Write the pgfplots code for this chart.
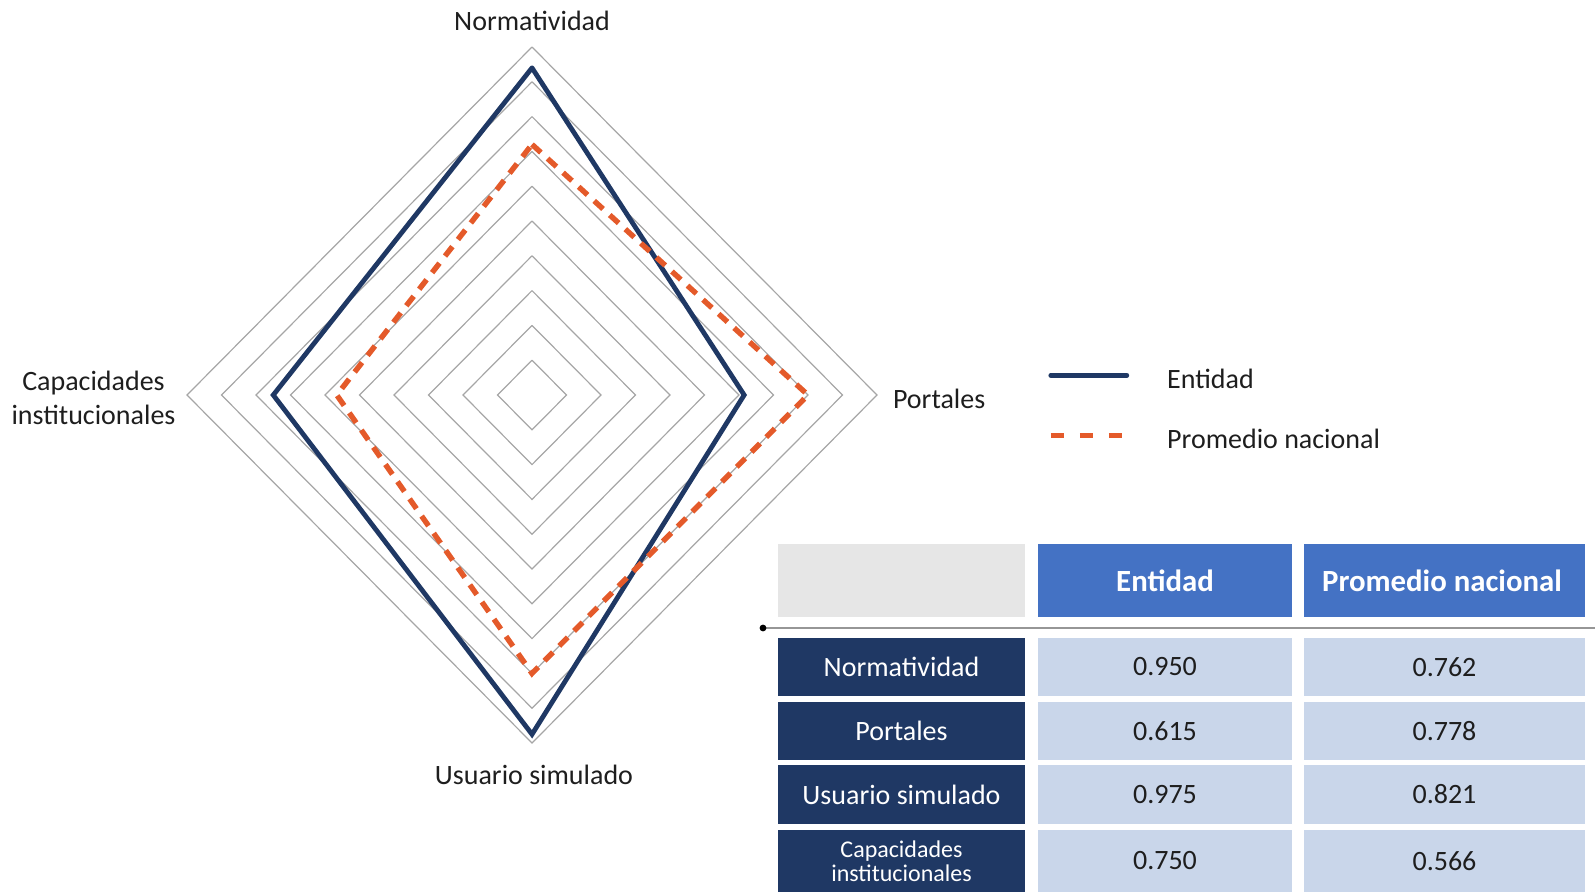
\documentclass[border=0pt]{standalone}
\usepackage{pgfplots}
\pgfplotsset{compat=1.18}
\usepackage{fontspec}
\setmainfont{Carlito}
\definecolor{navy}{HTML}{1F3864}
\definecolor{orng}{HTML}{E45A2A}
\definecolor{hdrblue}{HTML}{4472C4}
\definecolor{cellblue}{HTML}{C9D6EA}
\definecolor{hdrgray}{HTML}{E6E6E6}
\definecolor{ringgray}{HTML}{A6A6A6}
\definecolor{valtext}{HTML}{1E1E1E}
\definecolor{rulegray}{HTML}{969696}
\begin{document}
\begin{tikzpicture}
\useasboundingbox (0pt,0pt) rectangle (797.5pt,-445.5pt);
\begin{axis}[at={(266pt,-197.5pt)}, anchor=center, scale only axis,
  width=345pt, height=348pt, xmin=-1, xmax=1, ymin=-1, ymax=1,
  hide axis, clip=false,
  legend style={at={(axis description cs:1.248,0.475)}, anchor=west,
    draw=none, fill=none, inner sep=0pt, outer sep=0pt,
    row sep=17.5pt, column sep=19pt, text=valtext,
    font=\fontsize{14}{17}\selectfont,
    nodes={inner sep=0pt, text height=9.5pt, text depth=3pt}},
  legend cell align=left,
  legend image code/.code={\draw[#1] (0pt,3.5pt) -- (38pt,3.5pt);}]
\pgfplotsinvokeforeach{0.1,0.2,0.3,0.4,0.5,0.6,0.7,0.8,0.9,1.0}{
  \addplot[ringgray, line width=0.6pt, forget plot, mark=none]
    coordinates {(0,#1) (#1,0) (0,-#1) (-#1,0) (0,#1)};
}
% Entidad: Normatividad, Portales, Usuario simulado, Capacidades institucionales
\addplot[navy, line width=2.4pt, line join=miter, line cap=round, mark=none]
  coordinates {(0,0.940) (0.615,0) (0,-0.975) (-0.750,0) (0,0.940)};
% Promedio nacional (as drawn in the chart)
\addplot[orng, line width=2.7pt, dash pattern=on 6pt off 4.5pt, mark=none,
  legend image code/.code={\draw[orng, line width=2.7pt, dash pattern=on 6.5pt off 8pt] (0pt,3.5pt) -- (35.5pt,3.5pt);}]
  coordinates {(0,0.720) (0.800,0) (0,-0.800) (-0.566,0) (0,0.720)};
\legend{Entidad, Promedio nacional}
\end{axis}
% axis labels
\node[valtext, font=\fontsize{14}{17}\selectfont] at (266pt,-10.5pt) {Normatividad};
\node[valtext, font=\fontsize{14}{17}\selectfont, anchor=west] at (443pt,-199.5pt) {Portales};
\node[valtext, font=\fontsize{14}{17}\selectfont, align=center] at (46.75pt,-199pt) {Capacidades\\institucionales};
\node[valtext, font=\fontsize{14}{17}\selectfont] at (267pt,-387.5pt) {Usuario simulado};
% table header
\fill[hdrgray] (389pt,-272pt) rectangle (512.5pt,-308.5pt);
\fill[hdrblue] (519pt,-272pt) rectangle (646pt,-308.5pt);
\fill[hdrblue] (652pt,-272pt) rectangle (792.5pt,-308.5pt);
\node[white, font=\bfseries\fontsize{15.4}{18}\selectfont] at (582.5pt,-290.25pt) {Entidad};
\node[white, font=\bfseries\fontsize{15.4}{18}\selectfont] at (721pt,-290.25pt) {Promedio nacional};
\draw[rulegray, line width=1.2pt] (381.5pt,-314pt) -- (797.5pt,-314pt);
\fill[black] (381.5pt,-314pt) circle (1.7pt);
% table rows
\fill[navy] (389pt,-319pt) rectangle (512.5pt,-348pt);
\fill[cellblue] (519pt,-319pt) rectangle (646pt,-348pt);
\fill[cellblue] (652pt,-319pt) rectangle (792.5pt,-348pt);
\node[white, font=\fontsize{14}{17}\selectfont] at (450.75pt,-333.5pt) {Normatividad};
\node[valtext, font=\fontsize{14}{17}\selectfont] at (582.5pt,-333.5pt) {0.950};
\node[valtext, font=\fontsize{14}{17}\selectfont] at (722.25pt,-333.5pt) {0.762};
\fill[navy] (389pt,-351pt) rectangle (512.5pt,-380pt);
\fill[cellblue] (519pt,-351pt) rectangle (646pt,-380pt);
\fill[cellblue] (652pt,-351pt) rectangle (792.5pt,-380pt);
\node[white, font=\fontsize{14}{17}\selectfont] at (450.75pt,-365.5pt) {Portales};
\node[valtext, font=\fontsize{14}{17}\selectfont] at (582.5pt,-365.5pt) {0.615};
\node[valtext, font=\fontsize{14}{17}\selectfont] at (722.25pt,-365.5pt) {0.778};
\fill[navy] (389pt,-382.5pt) rectangle (512.5pt,-412pt);
\fill[cellblue] (519pt,-382.5pt) rectangle (646pt,-412pt);
\fill[cellblue] (652pt,-382.5pt) rectangle (792.5pt,-412pt);
\node[white, font=\fontsize{14}{17}\selectfont] at (450.75pt,-397.25pt) {Usuario simulado};
\node[valtext, font=\fontsize{14}{17}\selectfont] at (582.5pt,-397.25pt) {0.975};
\node[valtext, font=\fontsize{14}{17}\selectfont] at (722.25pt,-397.25pt) {0.821};
\fill[navy] (389pt,-415pt) rectangle (512.5pt,-450pt);
\fill[cellblue] (519pt,-415pt) rectangle (646pt,-450pt);
\fill[cellblue] (652pt,-415pt) rectangle (792.5pt,-450pt);
\node[white, align=center, font=\fontsize{12}{12}\selectfont] at (450.75pt,-430.5pt) {Capacidades\\institucionales};
\node[valtext, font=\fontsize{14}{17}\selectfont] at (582.5pt,-430.5pt) {0.750};
\node[valtext, font=\fontsize{14}{17}\selectfont] at (722.25pt,-430.5pt) {0.566};
\end{tikzpicture}
\end{document}
